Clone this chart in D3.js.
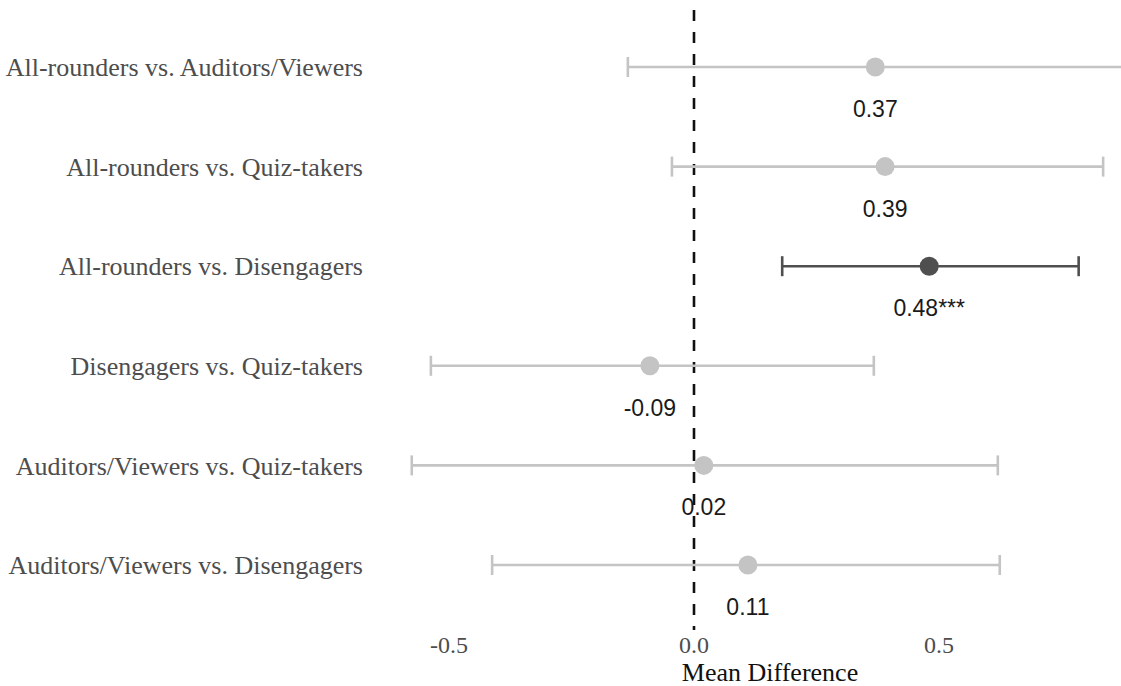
<!DOCTYPE html>
<html>
<head>
<meta charset="utf-8">
<script src="https://cdn.jsdelivr.net/npm/d3@7"></script>
<style>
  body { margin: 0; background: #fff; }
  svg { display: block; }
</style>
</head>
<body>
<svg id="chart" width="1121" height="686"></svg>
<script>
// comparisons, top to bottom
var comparisons = [
  'All-rounders vs. Auditors/Viewers',
  'All-rounders vs. Quiz-takers',
  'All-rounders vs. Disengagers',
  'Disengagers vs. Quiz-takers',
  'Auditors/Viewers vs. Quiz-takers',
  'Auditors/Viewers vs. Disengagers'
]
var meanDiff = [0.37, 0.39, 0.48, -0.09, 0.02, 0.11]
var lower = [-0.135, -0.045, 0.18, -0.537, -0.576, -0.412]
var upper = [0.875, 0.835, 0.785, 0.367, 0.62, 0.624]
var stars = ['', '', '***', '', '', '']
var xTicks = [-0.5, 0, 0.5]

var data = comparisons.map(function(c, i){
  return {name: c, est: meanDiff[i], lo: lower[i], hi: upper[i], sig: stars[i] != ''}
})

var svg = d3.select('#chart')

var x = d3.scaleLinear().domain([-0.5, 0.5]).range([449, 939])
var y = d3.scalePoint().domain(comparisons).range([67, 565])

var grey = '#c4c4c4', dark = '#4f4f4f'

// zero reference line
svg.append('line')
  .attr('x1', x(0)).attr('x2', x(0))
  .attr('y1', 10).attr('y2', 630)
  .attr('stroke', '#111').attr('stroke-width', 2.6)
  .attr('stroke-dasharray', '11,11')

var rows = svg.selectAll('g.row')
  .data(data)
  .enter().append('g').attr('class', 'row')
  .attr('transform', function(d){ return 'translate(0,' + y(d.name) + ')' })

rows.append('line')
  .attr('x1', function(d){ return x(d.lo) })
  .attr('x2', function(d){ return x(d.hi) })
  .attr('stroke', function(d){ return d.sig ? dark : grey })
  .attr('stroke-width', 2.6)

rows.selectAll('line.cap')
  .data(function(d){ return [{v: d.lo, sig: d.sig}, {v: d.hi, sig: d.sig}] })
  .enter().append('line').attr('class', 'cap')
  .attr('x1', function(d){ return x(d.v) })
  .attr('x2', function(d){ return x(d.v) })
  .attr('y1', -10).attr('y2', 10)
  .attr('stroke', function(d){ return d.sig ? dark : grey })
  .attr('stroke-width', 2.6)

rows.append('circle')
  .attr('cx', function(d){ return x(d.est) })
  .attr('r', 9.5)
  .attr('fill', function(d){ return d.sig ? dark : grey })

rows.append('text')
  .attr('x', function(d){ return x(d.est) })
  .attr('y', 50)
  .attr('text-anchor', 'middle')
  .style('font-family', 'Liberation Sans, Arial, sans-serif')
  .style('font-size', '23px')
  .attr('fill', '#1a1a1a')
  .text(function(d){ return d3.format('.2f')(d.est).replace('−', '-') + (d.sig ? '***' : '') })

// category labels
rows.append('text')
  .attr('x', 363)
  .attr('dy', '0.35em')
  .attr('text-anchor', 'end')
  .style('font-family', 'Liberation Serif, Times New Roman, serif')
  .style('font-size', '26px')
  .attr('fill', '#4d4d4d')
  .text(function(d){ return d.name })

// x axis tick labels
svg.selectAll('text.tick')
  .data(xTicks)
  .enter().append('text').attr('class', 'tick')
  .attr('x', function(d){ return x(d) })
  .attr('y', 653)
  .attr('text-anchor', 'middle')
  .style('font-family', 'Liberation Serif, Times New Roman, serif')
  .style('font-size', '24px')
  .attr('fill', '#4d4d4d')
  .text(function(d){ return d3.format('.1f')(d).replace('−', '-') })

svg.append('text')
  .attr('x', 770).attr('y', 681)
  .attr('text-anchor', 'middle')
  .style('font-family', 'Liberation Serif, Times New Roman, serif')
  .style('font-size', '26px')
  .attr('fill', '#111')
  .text('Mean Difference')
</script>
</body>
</html>
